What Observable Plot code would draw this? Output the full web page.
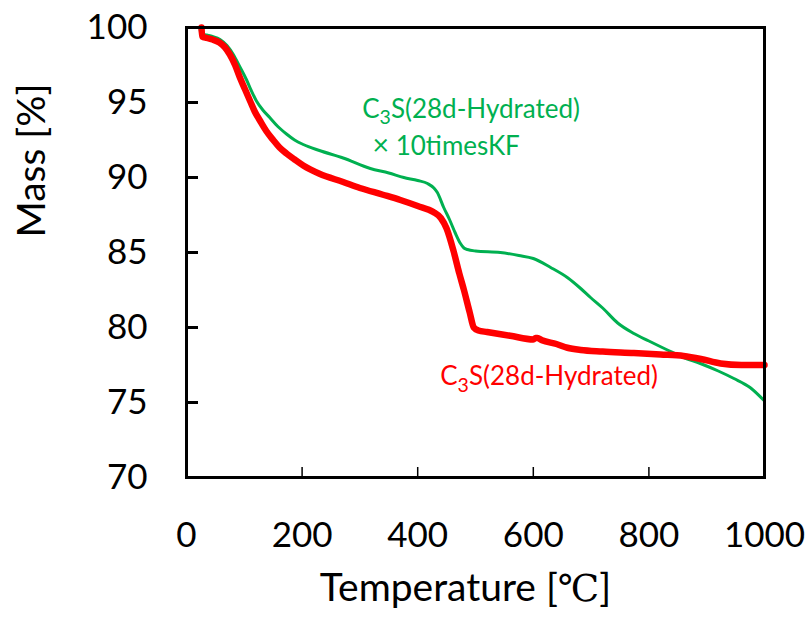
<!DOCTYPE html>
<html><head><meta charset="utf-8">
<script src="https://cdn.jsdelivr.net/npm/d3@7"></script>
<script src="https://cdn.jsdelivr.net/npm/@observablehq/plot@0.6"></script>
<style>body{margin:0;background:#fff}</style>
</head><body><div id="chart"></div>
<script>
// Temperature [°C] and mass [%] for each series
const redT = [26, 27, 35, 45, 57, 66, 75, 84, 92, 101, 110, 118, 127, 138, 150, 161, 173, 187, 202, 230, 271, 300, 340, 370, 400, 427, 440, 450, 462, 472, 480, 490, 497, 505, 520, 560, 600, 604, 607, 615, 640, 659, 682, 720, 774, 820, 860, 890, 924, 960, 1000];
const redM = [100.0, 99.4, 99.3, 99.2, 99.0, 98.7, 98.2, 97.5, 96.7, 95.9, 95.1, 94.4, 93.8, 93.1, 92.5, 92.0, 91.6, 91.2, 90.8, 90.25, 89.7, 89.3, 88.85, 88.5, 88.1, 87.7, 87.3, 86.6, 85.1, 83.6, 82.5, 81.0, 80.0, 79.8, 79.7, 79.45, 79.2, 79.3, 79.3, 79.15, 78.9, 78.65, 78.5, 78.4, 78.3, 78.2, 78.1, 77.9, 77.6, 77.5, 77.5];
const greenT = [23, 25, 35, 45, 58, 70, 81, 92, 104, 112, 121, 132, 144, 158, 173, 187, 202, 230, 271, 318, 350, 376, 400, 417, 428, 434, 445, 455, 465, 474, 480, 486, 500, 543, 575, 600, 630, 660, 682, 699, 720, 746, 774, 800, 832, 860, 889, 920, 947, 975, 1000];
const greenM = [100.0, 99.6, 99.5, 99.4, 99.2, 98.8, 98.2, 97.4, 96.5, 95.8, 95.1, 94.5, 94.0, 93.4, 92.9, 92.5, 92.2, 91.8, 91.3, 90.6, 90.3, 90.0, 89.8, 89.6, 89.3, 89.0, 88.0, 87.2, 86.3, 85.6, 85.3, 85.2, 85.1, 85.0, 84.8, 84.6, 84.0, 83.3, 82.6, 82.0, 81.3, 80.3, 79.6, 79.1, 78.5, 78.0, 77.6, 77.1, 76.6, 76.0, 75.1];

const xTickLabels = [0, 200, 400, 600, 800, 1000];
const yTickLabels = [70, 75, 80, 85, 90, 95, 100];
const xInnerTicks = [200, 400, 600, 800];
const yInnerTicks = [75, 80, 85, 90, 95];

const labelText = ["C3S(28d-Hydrated)", "×10timesKF", "C3S(28d-Hydrated)"];
const labelT = [304, 322, 439];
const labelM = [94.55, 92.05, 76.7];
const labelColor = ["#00b050", "#00b050", "#ff0000"];

const xTitle = "Temperature [℃]";
const yTitle = "Mass [%]";

const red = redT.map((t, i) => ({t, m: redM[i]}));
const green = greenT.map((t, i) => ({t, m: greenM[i]}));
const labels = labelText.map((s, i) => ({s, t: labelT[i], m: labelM[i], c: labelColor[i]}));

const chart = Plot.plot({
  width: 808, height: 624,
  marginLeft: 186, marginRight: 44, marginTop: 27, marginBottom: 147,
  style: {fontFamily: "Lato, 'Open Sans', sans-serif", background: "#fff", color: "#000"},
  x: {domain: [0, 1000]},
  y: {domain: [70, 100]},
  marks: [
    Plot.axisX(xTickLabels, {tickSize: 0, tickPadding: 45, fontSize: 35, label: null, tickFormat: d => String(d)}),
    Plot.axisY(yTickLabels, {tickSize: 0, tickPadding: 39, fontSize: 35, label: null, tickFormat: d => String(d)}),
    Plot.ruleX(xInnerTicks, {x: d => d, insetTop: 440, stroke: "#000", strokeWidth: 1.5}),
    Plot.ruleY(yInnerTicks, {y: d => d, insetRight: 566, stroke: "#000", strokeWidth: 3}),
    Plot.line(green, {x: "t", y: "m", stroke: "#00b050", strokeWidth: 3, curve: "monotone-x"}),
    Plot.line(red, {x: "t", y: "m", stroke: "#ff0000", strokeWidth: 6.5, curve: "monotone-x"}),
    Plot.text(labels, {x: "t", y: "m", text: "s", fill: "c", textAnchor: "start", fontSize: 26}),
    Plot.text([xTitle], {frameAnchor: "bottom", dx: -10, dy: 123, fontSize: 39, fill: "#000"}),
    Plot.text([yTitle], {frameAnchor: "left", dx: -154, dy: -15, rotate: -90, fontSize: 39, fill: "#000"}),
    Plot.frame({stroke: "#000", strokeWidth: 3})
  ]
});
document.getElementById("chart").appendChild(chart);

// Subscript "3" in C3S, spaced ×, and serif ℃ symbol
chart.querySelectorAll("text").forEach(el => {
  const s = el.textContent;
  if (s.startsWith("C3S")) {
    el.innerHTML = 'C<tspan dy="0.32em" font-size="0.75em">3</tspan><tspan dy="-0.24em">' + s.slice(2) + '</tspan>';
  } else if (s.startsWith("×")) {
    el.innerHTML = '<tspan font-size="1.1em">×</tspan><tspan dx="0.25em">' + s.slice(1) + '</tspan>';
  } else if (s.includes("℃")) {
    el.innerHTML = 'Temperature [<tspan font-family="DejaVu Serif, Liberation Serif, serif" font-size="0.95em">℃</tspan>]';
  }
});
</script>
</body></html>
